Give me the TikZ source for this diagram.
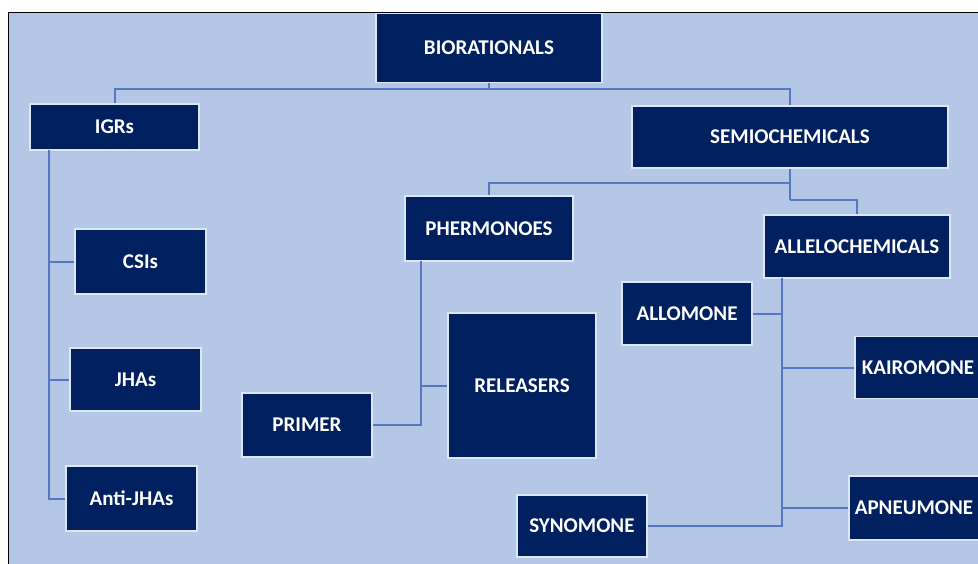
\documentclass[tikz,border=0pt]{standalone}
\usepackage{fontspec}
\setmainfont{Carlito}
\definecolor{bgblue}{HTML}{B4C7E7}
\definecolor{navy}{HTML}{002060}
\definecolor{linkblue}{HTML}{5479BE}
\definecolor{rim}{HTML}{DDE6F3}
\tikzset{
  box/.style={draw=rim, line width=1.4pt, fill=navy, text=white,
    font=\fontsize{21}{24}\selectfont\bfseries, inner sep=0pt, align=center},
  link/.style={draw=linkblue, line width=2pt}
}
\begin{document}
\begin{tikzpicture}[x=1pt,y=-1pt]
\useasboundingbox (0,0) rectangle (978,563);
\clip (0,0) rectangle (978,563);
\fill[white] (0,0) rectangle (978,563);
\fill[bgblue] (8,12) rectangle (980,565);
\draw[black, line width=1pt] (8,565) -- (8,12) -- (980,12);

% nodes
\node[box, minimum width=226pt, minimum height=69pt] (bio) at (489,48) {BIORATIONALS};
\node[box, minimum width=169pt, minimum height=46pt] (igr) at (114.5,127) {IGRs};
\node[box, minimum width=316pt, minimum height=62pt] (semi) at (790,137) {SEMIOCHEMICALS};
\node[box, minimum width=131pt, minimum height=65pt] (csi) at (140.5,261.5) {CSIs};
\node[box, minimum width=131pt, minimum height=63pt] (jha) at (135.5,379.5) {JHAs};
\node[box, minimum width=131pt, minimum height=65pt] (anti) at (131.5,498.5) {Anti-JHAs};
\node[box, minimum width=168pt, minimum height=65pt] (pher) at (489,228.5) {PHERMONOES};
\node[box, minimum width=186pt, minimum height=63pt] (alle) at (857,246.5) {ALLELOCHEMICALS};
\node[box, minimum width=130pt, minimum height=63pt] (allo) at (687,313.5) {ALLOMONE};
\node[box, minimum width=126pt, minimum height=62pt] (kair) at (918,367.5) {KAIROMONE};
\node[box, minimum width=148pt, minimum height=145pt] (rel) at (522,385.5) {RELEASERS};
\node[box, minimum width=130pt, minimum height=64pt] (prim) at (307,425) {PRIMER};
\node[box, minimum width=130pt, minimum height=62pt] (syn) at (582,526) {SYNOMONE};
\node[box, minimum width=130pt, minimum height=64pt] (apn) at (914,508) {APNEUMONE};

% junctions
\coordinate (j1) at (489,89);
\coordinate (t1) at (49,150);
\coordinate (j2) at (790,183);
\coordinate (j3) at (790,200);
\coordinate (p1) at (421,261);
\coordinate (a1) at (782,278);

% connectors
\draw[link] (bio.south) -- (j1);
\draw[link] (igr.north) |- (j1) -| (semi.north);
\draw[link] (t1) |- (anti.west);
\draw[link] (t1 |- csi.west) -- (csi.west);
\draw[link] (t1 |- jha.west) -- (jha.west);
\draw[link] (semi.south) -- (j3);
\draw[link] (j2) -| (pher.north);
\draw[link] (j3) -| (alle.north);
\draw[link] (p1) |- (prim.east);
\draw[link] (p1 |- rel.west) -- (rel.west);
\draw[link] (a1) |- (syn.east);
\draw[link] (allo.east) -- (a1 |- allo.east);
\draw[link] (a1 |- kair.west) -- (kair.west);
\draw[link] (a1 |- apn.west) -- (apn.west);
\end{tikzpicture}
\end{document}
